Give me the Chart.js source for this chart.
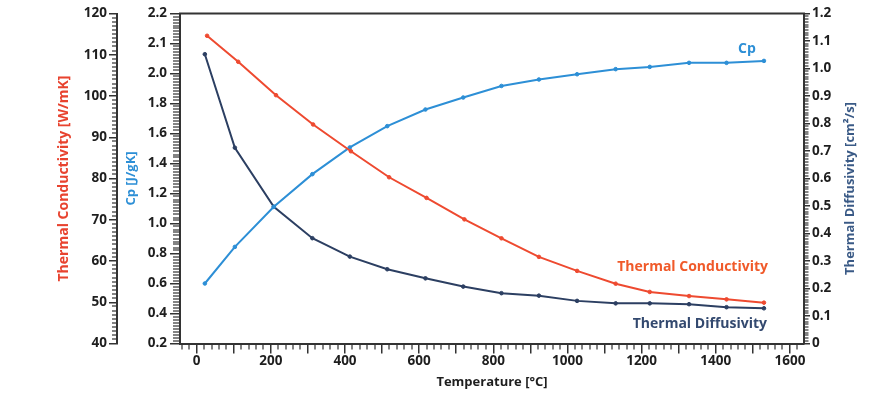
<!DOCTYPE html>
<html>
<head>
<meta charset="utf-8">
<script src="https://cdn.jsdelivr.net/npm/chart.js@4.4.1/dist/chart.umd.min.js"></script>
<style>
  html, body { margin: 0; padding: 0; background: #ffffff; }
  #wrap { width: 888px; height: 398px; }
</style>
</head>
<body>
<div id="wrap"><canvas id="c" width="888" height="398"></canvas></div>
<script>
// ---------- data ----------
const temperature        = [22, 103, 208, 312, 413, 514, 617, 719, 822, 923, 1026, 1130, 1222, 1328, 1429, 1530];
const temperatureTC      = [28, 112, 214, 314, 416, 519, 620, 722, 822, 923, 1026, 1130, 1222, 1328, 1429, 1530];
const thermalConductivity = [114.6, 108.3, 100.2, 93.1, 86.6, 80.3, 75.3, 70.1, 65.5, 61.0, 57.6, 54.5, 52.5, 51.5, 50.7, 49.9];
const specificHeat        = [0.60, 0.844, 1.111, 1.329, 1.507, 1.649, 1.76, 1.84, 1.917, 1.96, 1.995, 2.029, 2.044, 2.071, 2.071, 2.084];
const thermalDiffusivity  = [1.052, 0.712, 0.497, 0.383, 0.316, 0.270, 0.237, 0.207, 0.183, 0.174, 0.155, 0.146, 0.146, 0.143, 0.132, 0.128];

// tick values / labels
const tempTickValues = [0, 100, 200, 300, 400, 500, 600, 700, 800, 900, 1000, 1100, 1200, 1300, 1400, 1500, 1600];
const tempTickLabels = ['0', '', '200', '', '400', '', '600', '', '800', '', '1000', '', '1200', '', '1400', '', '1600'];
const tcTickValues = [40, 50, 60, 70, 80, 90, 100, 110, 120];
const tcTickLabels = ['40', '50', '60', '70', '80', '90', '100', '110', '120'];
const cpTickValues = [0.2, 0.4, 0.6, 0.8, 1.0, 1.2, 1.4, 1.6, 1.8, 2.0, 2.2, 2.4];
const cpTickLabels = ['0.2', '0.4', '0.6', '0.8', '1.0', '1.2', '1.4', '1.6', '1.8', '2.0', '2.1', '2.2'];
const tdTickValues = [0, 0.1, 0.2, 0.3, 0.4, 0.5, 0.6, 0.7, 0.8, 0.9, 1.0, 1.1, 1.2];
const tdTickLabels = ['0', '0.1', '0.2', '0.3', '0.4', '0.5', '0.6', '0.7', '0.8', '0.9', '1.0', '1.1', '1.2'];

const seriesNames = ['Thermal Conductivity', 'Cp', 'Thermal Diffusivity'];

// ---------- styling ----------
const RED = '#ee4a30';
const BLUE = '#2d8fd6';
const NAVY = '#2c3f62';
const AXIS = '#333333';
const TEXT = '#1e1e1e';
const FONT = "'Open Sans'";

Chart.defaults.font.family = FONT;
Chart.defaults.font.weight = 'bold';
Chart.defaults.font.size = 13;
Chart.defaults.color = TEXT;

function pts(xs, ys) { return xs.map((x, i) => ({ x: x, y: ys[i] })); }

function setTicks(values) {
  return function (scale) { scale.ticks = values.map(v => ({ value: v })); };
}

// minor tick spacing (axis units) and length (px)
const minorSpec = {
  x:  { step: 20,   len: 6 },
  tc: { step: 1,    len: 5 },
  cp: { step: 0.02, len: 7 },
  td: { step: 0.01, len: 4.5 }
};

const extrasPlugin = {
  id: 'extras',
  afterDraw(chart) {
    const ctx = chart.ctx;
    const area = chart.chartArea;
    ctx.save();
    // top border of plot box
    ctx.fillStyle = AXIS;
    ctx.fillRect(area.left - 1, area.top - 1, area.right - area.left + 2, 2);

    // minor ticks
    Object.keys(minorSpec).forEach(id => {
      const scale = chart.scales[id];
      const spec = minorSpec[id];
      const n0 = Math.ceil(scale.min / spec.step - 1e-6);
      const n1 = Math.floor(scale.max / spec.step + 1e-6);
      const majors = scale.ticks.map(t => t.value);
      for (let n = n0; n <= n1; n++) {
        const v = n * spec.step;
        if (majors.some(m => Math.abs(m - v) < spec.step / 4)) continue;
        const p = Math.round(scale.getPixelForValue(v));
        if (scale.isHorizontal()) {
          ctx.fillRect(p - 0.6, scale.top, 1.2, spec.len);
        } else if (scale.position === 'left') {
          ctx.fillRect(scale.right - spec.len, p - 0.6, spec.len, 1.2);
        } else {
          ctx.fillRect(scale.left, p - 0.6, spec.len, 1.2);
        }
      }
    });

    // right axis title (reads bottom-to-top)
    const td = chart.scales.td;
    ctx.save();
    ctx.translate(td.right - 16, (td.top + td.bottom) / 2 + 10);
    ctx.rotate(-Math.PI / 2);
    ctx.fillStyle = '#3a5a86';
    ctx.font = "bold 13px " + FONT;
    ctx.textAlign = 'center';
    ctx.textBaseline = 'middle';
    ctx.fillText('Thermal Diffusivity [cm²/s]', 0, 0);
    ctx.restore();

    // series labels anchored to the last point of each series
    const lastPt = i => { const d = chart.getDatasetMeta(i).data; return d[d.length - 1]; };
    const pTC = lastPt(0), pCp = lastPt(1), pTD = lastPt(2);
    ctx.textBaseline = 'middle';
    ctx.font = "bold 14px " + FONT;
    ctx.fillStyle = BLUE;
    ctx.textAlign = 'center';
    ctx.fillText(seriesNames[1], pCp.x - 17, pCp.y - 12);
    ctx.font = "bold 14px " + FONT;
    ctx.fillStyle = '#f05a2a';
    ctx.textAlign = 'right';
    ctx.fillText(seriesNames[0], pTC.x + 4, pTC.y - 36);
    ctx.fillStyle = '#33496f';
    ctx.fillText(seriesNames[2], pTD.x + 3, pTD.y + 16);
    ctx.restore();
  }
};

const gridOpts = (len) => ({
  display: true,
  drawOnChartArea: false,
  drawTicks: true,
  tickLength: len,
  color: AXIS,
  lineWidth: 1.5
});
const borderOpts = { display: true, color: AXIS, width: 2 };
const tickFont = { size: 13.5, weight: 'bold' };

new Chart(document.getElementById('c'), {
  type: 'line',
  data: {
    datasets: [
      {
        label: seriesNames[0],
        data: pts(temperatureTC, thermalConductivity),
        yAxisID: 'tc',
        borderColor: RED, backgroundColor: RED,
        borderWidth: 2, pointRadius: 1.8, pointBorderWidth: 1, tension: 0
      },
      {
        label: seriesNames[1],
        data: pts(temperature, specificHeat),
        yAxisID: 'cp',
        borderColor: BLUE, backgroundColor: BLUE,
        borderWidth: 2, pointRadius: 1.8, pointBorderWidth: 1, tension: 0
      },
      {
        label: seriesNames[2],
        data: pts(temperature, thermalDiffusivity),
        yAxisID: 'td',
        borderColor: NAVY, backgroundColor: NAVY,
        borderWidth: 2, pointRadius: 1.8, pointBorderWidth: 1, tension: 0
      }
    ]
  },
  options: {
    responsive: false,
    animation: false,
    devicePixelRatio: 1,
    layout: { padding: { left: 51, right: 22, top: 13.5, bottom: 0 } },
    plugins: { legend: { display: false }, tooltip: { enabled: false } },
    scales: {
      x: {
        type: 'linear',
        position: 'bottom',
        min: -45, max: 1638,
        afterBuildTicks: setTicks(tempTickValues),
        afterFit: s => { s.height = 54.5; },
        ticks: {
          autoSkip: false, maxRotation: 0, includeBounds: false, padding: 0,
          callback: (v, i) => tempTickLabels[i],
          font: tickFont, color: TEXT
        },
        grid: gridOpts(10),
        border: borderOpts,
        title: {
          display: true, text: 'Temperature [°C]', color: TEXT,
          font: { size: 13, weight: 'bold' }, padding: { top: 0, bottom: 8 }
        }
      },
      cp: {
        type: 'linear',
        position: 'left',
        weight: 0,
        min: 0.2, max: 2.4,
        afterBuildTicks: setTicks(cpTickValues),
        afterFit: s => { s.width = 63; },
        ticks: {
          autoSkip: false, includeBounds: false, padding: 3,
          callback: (v, i) => cpTickLabels[i],
          font: tickFont, color: TEXT
        },
        grid: gridOpts(10),
        border: borderOpts,
        title: {
          display: true, text: 'Cp [J/gK]', color: BLUE,
          font: { size: 13, weight: 'bold' }, padding: { top: 6, bottom: 0 }
        }
      },
      tc: {
        type: 'linear',
        position: 'left',
        weight: 1,
        min: 40, max: 120,
        afterBuildTicks: setTicks(tcTickValues),
        afterFit: s => { s.width = 66; },
        ticks: {
          autoSkip: false, includeBounds: false, padding: 2,
          callback: (v, i) => tcTickLabels[i],
          font: tickFont, color: TEXT
        },
        grid: gridOpts(8),
        border: borderOpts,
        title: {
          display: true, text: 'Thermal Conductivity [W/mK]', color: '#e8432f',
          font: { size: 14, weight: 'bold' }, padding: { top: 5, bottom: 0 }
        }
      },
      td: {
        type: 'linear',
        position: 'right',
        min: 0, max: 1.2,
        afterBuildTicks: setTicks(tdTickValues),
        afterFit: s => { s.width = 62; },
        ticks: {
          autoSkip: false, includeBounds: false, padding: 2,
          callback: (v, i) => tdTickLabels[i],
          font: tickFont, color: TEXT
        },
        grid: gridOpts(6),
        border: borderOpts,
        title: { display: false }
      }
    }
  },
  plugins: [extrasPlugin]
});
</script>
</body>
</html>
